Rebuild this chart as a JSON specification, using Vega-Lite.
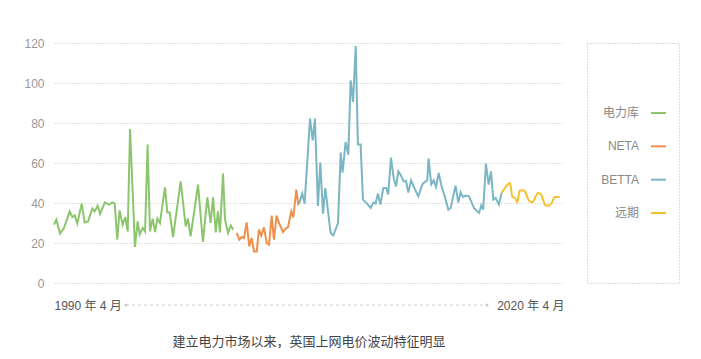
{
  "$schema": "https://vega.github.io/schema/vega-lite/v6.json",
  "padding": {"left": 23, "top": 37, "right": 5, "bottom": 5},
  "background": "white",
  "config": {
    "view": {"stroke": null},
    "font": "Liberation Sans, Noto Sans CJK SC",
    "text": {"font": "Liberation Sans, Noto Sans CJK SC"}
  },
  "spacing": 22,
  "datasets": {
    "prices": [
      {"series": "电力库", "t": 1990.25, "v": 29.2}, {"series": "电力库", "t": 1990.39, "v": 31.7}, {"series": "电力库", "t": 1990.61, "v": 24.7}, {"series": "电力库", "t": 1990.84, "v": 27.5}, {"series": "电力库", "t": 1991.18, "v": 35.8}, {"series": "电力库", "t": 1991.34, "v": 33}, {"series": "电力库", "t": 1991.48, "v": 33.8}, {"series": "电力库", "t": 1991.63, "v": 29.7}, {"series": "电力库", "t": 1991.89, "v": 39.7}, {"series": "电力库", "t": 1992.07, "v": 30.3}, {"series": "电力库", "t": 1992.27, "v": 30.8}, {"series": "电力库", "t": 1992.52, "v": 37.2}, {"series": "电力库", "t": 1992.66, "v": 35.8}, {"series": "电力库", "t": 1992.84, "v": 38.7}, {"series": "电力库", "t": 1992.98, "v": 34.5}, {"series": "电力库", "t": 1993.27, "v": 40.3}, {"series": "电力库", "t": 1993.51, "v": 39.2}, {"series": "电力库", "t": 1993.71, "v": 40.3}, {"series": "电力库", "t": 1993.85, "v": 39.7}, {"series": "电力库", "t": 1994.0, "v": 21.7}, {"series": "电力库", "t": 1994.14, "v": 36.3}, {"series": "电力库", "t": 1994.32, "v": 29.2}, {"series": "电力库", "t": 1994.48, "v": 33}, {"series": "电力库", "t": 1994.62, "v": 25.8}, {"series": "电力库", "t": 1994.76, "v": 77}, {"series": "电力库", "t": 1995.05, "v": 18}, {"series": "电力库", "t": 1995.21, "v": 30.8}, {"series": "电力库", "t": 1995.33, "v": 24.2}, {"series": "电力库", "t": 1995.51, "v": 27.5}, {"series": "电力库", "t": 1995.65, "v": 25.8}, {"series": "电力库", "t": 1995.8, "v": 69.2}, {"series": "电力库", "t": 1995.94, "v": 25.8}, {"series": "电力库", "t": 1996.1, "v": 32.2}, {"series": "电力库", "t": 1996.24, "v": 25.5}, {"series": "电力库", "t": 1996.38, "v": 32.2}, {"series": "电力库", "t": 1996.53, "v": 30}, {"series": "电力库", "t": 1996.83, "v": 47.8}, {"series": "电力库", "t": 1996.97, "v": 35.3}, {"series": "电力库", "t": 1997.11, "v": 35.3}, {"series": "电力库", "t": 1997.31, "v": 23}, {"series": "电力库", "t": 1997.76, "v": 50.8}, {"series": "电力库", "t": 1998.06, "v": 28.3}, {"series": "电力库", "t": 1998.19, "v": 32.2}, {"series": "电力库", "t": 1998.35, "v": 23.3}, {"series": "电力库", "t": 1998.79, "v": 49.2}, {"series": "电力库", "t": 1999.08, "v": 20.5}, {"series": "电力库", "t": 1999.34, "v": 42.8}, {"series": "电力库", "t": 1999.54, "v": 30}, {"series": "电力库", "t": 1999.68, "v": 42.8}, {"series": "电力库", "t": 1999.84, "v": 25.3}, {"series": "电力库", "t": 1999.97, "v": 35.8}, {"series": "电力库", "t": 2000.09, "v": 25.3}, {"series": "电力库", "t": 2000.27, "v": 54.7}, {"series": "电力库", "t": 2000.39, "v": 31.7}, {"series": "电力库", "t": 2000.57, "v": 25}, {"series": "电力库", "t": 2000.73, "v": 28.7}, {"series": "电力库", "t": 2000.88, "v": 26.7},
      {"series": "NETA", "t": 2001.08, "v": 25}, {"series": "NETA", "t": 2001.24, "v": 21.7}, {"series": "NETA", "t": 2001.38, "v": 23}, {"series": "NETA", "t": 2001.52, "v": 22.5}, {"series": "NETA", "t": 2001.67, "v": 30.3}, {"series": "NETA", "t": 2001.83, "v": 18.3}, {"series": "NETA", "t": 2001.97, "v": 22.5}, {"series": "NETA", "t": 2002.11, "v": 15.8}, {"series": "NETA", "t": 2002.27, "v": 15.8}, {"series": "NETA", "t": 2002.4, "v": 26.7}, {"series": "NETA", "t": 2002.54, "v": 23.7}, {"series": "NETA", "t": 2002.7, "v": 27.8}, {"series": "NETA", "t": 2002.86, "v": 20}, {"series": "NETA", "t": 2003.0, "v": 19.2}, {"series": "NETA", "t": 2003.16, "v": 33.7}, {"series": "NETA", "t": 2003.29, "v": 21.7}, {"series": "NETA", "t": 2003.45, "v": 33.7}, {"series": "NETA", "t": 2003.59, "v": 30}, {"series": "NETA", "t": 2003.83, "v": 25.5}, {"series": "NETA", "t": 2003.99, "v": 27.2}, {"series": "NETA", "t": 2004.12, "v": 27.8}, {"series": "NETA", "t": 2004.32, "v": 35.8}, {"series": "NETA", "t": 2004.44, "v": 32.8}, {"series": "NETA", "t": 2004.62, "v": 46.7}, {"series": "NETA", "t": 2004.74, "v": 38.8},
      {"series": "BETTA", "t": 2004.78, "v": 39.7}, {"series": "BETTA", "t": 2004.97, "v": 44.7}, {"series": "BETTA", "t": 2005.11, "v": 39.7}, {"series": "BETTA", "t": 2005.43, "v": 82.2}, {"series": "BETTA", "t": 2005.59, "v": 71.3}, {"series": "BETTA", "t": 2005.72, "v": 82.2}, {"series": "BETTA", "t": 2005.9, "v": 38.5}, {"series": "BETTA", "t": 2006.04, "v": 60.2}, {"series": "BETTA", "t": 2006.2, "v": 34.7}, {"series": "BETTA", "t": 2006.34, "v": 47.5}, {"series": "BETTA", "t": 2006.48, "v": 37.2}, {"series": "BETTA", "t": 2006.65, "v": 25}, {"series": "BETTA", "t": 2006.81, "v": 23.8}, {"series": "BETTA", "t": 2007.09, "v": 30}, {"series": "BETTA", "t": 2007.25, "v": 65.2}, {"series": "BETTA", "t": 2007.36, "v": 55.2}, {"series": "BETTA", "t": 2007.54, "v": 70.5}, {"series": "BETTA", "t": 2007.7, "v": 64.2}, {"series": "BETTA", "t": 2007.84, "v": 101.3}, {"series": "BETTA", "t": 2007.98, "v": 90.5}, {"series": "BETTA", "t": 2008.14, "v": 118.5}, {"series": "BETTA", "t": 2008.27, "v": 69.2}, {"series": "BETTA", "t": 2008.43, "v": 69.2}, {"series": "BETTA", "t": 2008.57, "v": 41.7}, {"series": "BETTA", "t": 2008.81, "v": 39.7}, {"series": "BETTA", "t": 2009.03, "v": 37.5}, {"series": "BETTA", "t": 2009.18, "v": 40.2}, {"series": "BETTA", "t": 2009.32, "v": 39.7}, {"series": "BETTA", "t": 2009.46, "v": 44.7}, {"series": "BETTA", "t": 2009.6, "v": 39.2}, {"series": "BETTA", "t": 2009.78, "v": 47.5}, {"series": "BETTA", "t": 2009.95, "v": 47.5}, {"series": "BETTA", "t": 2010.07, "v": 44.3}, {"series": "BETTA", "t": 2010.23, "v": 62.7}, {"series": "BETTA", "t": 2010.39, "v": 52.5}, {"series": "BETTA", "t": 2010.53, "v": 48.3}, {"series": "BETTA", "t": 2010.67, "v": 55.8}, {"series": "BETTA", "t": 2010.82, "v": 53.8}, {"series": "BETTA", "t": 2010.98, "v": 50.8}, {"series": "BETTA", "t": 2011.12, "v": 51}, {"series": "BETTA", "t": 2011.26, "v": 45.2}, {"series": "BETTA", "t": 2011.42, "v": 51.3}, {"series": "BETTA", "t": 2011.59, "v": 48}, {"series": "BETTA", "t": 2011.85, "v": 43.3}, {"series": "BETTA", "t": 2012.09, "v": 49.3}, {"series": "BETTA", "t": 2012.23, "v": 50.5}, {"series": "BETTA", "t": 2012.38, "v": 51.3}, {"series": "BETTA", "t": 2012.46, "v": 62.2}, {"series": "BETTA", "t": 2012.62, "v": 49.3}, {"series": "BETTA", "t": 2012.76, "v": 51.3}, {"series": "BETTA", "t": 2012.9, "v": 48}, {"series": "BETTA", "t": 2013.06, "v": 55}, {"series": "BETTA", "t": 2013.22, "v": 48.7}, {"series": "BETTA", "t": 2013.43, "v": 43}, {"series": "BETTA", "t": 2013.63, "v": 36.7}, {"series": "BETTA", "t": 2013.77, "v": 37.5}, {"series": "BETTA", "t": 2014.06, "v": 48.7}, {"series": "BETTA", "t": 2014.22, "v": 40.3}, {"series": "BETTA", "t": 2014.36, "v": 45.3}, {"series": "BETTA", "t": 2014.5, "v": 43}, {"series": "BETTA", "t": 2014.66, "v": 43.7}, {"series": "BETTA", "t": 2014.86, "v": 43.3}, {"series": "BETTA", "t": 2015.01, "v": 40.3}, {"series": "BETTA", "t": 2015.15, "v": 37.5}, {"series": "BETTA", "t": 2015.45, "v": 35}, {"series": "BETTA", "t": 2015.59, "v": 38.8}, {"series": "BETTA", "t": 2015.7, "v": 36.7}, {"series": "BETTA", "t": 2015.86, "v": 59.7}, {"series": "BETTA", "t": 2016.02, "v": 49.2}, {"series": "BETTA", "t": 2016.16, "v": 55.8}, {"series": "BETTA", "t": 2016.3, "v": 41.7}, {"series": "BETTA", "t": 2016.44, "v": 42.5}, {"series": "BETTA", "t": 2016.63, "v": 39.2}, {"series": "BETTA", "t": 2016.79, "v": 45},
      {"series": "远期", "t": 2016.79, "v": 45}, {"series": "远期", "t": 2016.99, "v": 47.5}, {"series": "远期", "t": 2017.29, "v": 50}, {"series": "远期", "t": 2017.43, "v": 43}, {"series": "远期", "t": 2017.59, "v": 42.5}, {"series": "远期", "t": 2017.72, "v": 40.3}, {"series": "远期", "t": 2017.86, "v": 46.3}, {"series": "远期", "t": 2018.12, "v": 46.3}, {"series": "远期", "t": 2018.28, "v": 43.7}, {"series": "远期", "t": 2018.41, "v": 41.2}, {"series": "远期", "t": 2018.61, "v": 40.3}, {"series": "远期", "t": 2018.77, "v": 42.5}, {"series": "远期", "t": 2018.93, "v": 45}, {"series": "远期", "t": 2019.12, "v": 44.5}, {"series": "远期", "t": 2019.26, "v": 41.3}, {"series": "远期", "t": 2019.4, "v": 38.8}, {"series": "远期", "t": 2019.6, "v": 38.8}, {"series": "远期", "t": 2019.76, "v": 40}, {"series": "远期", "t": 2019.95, "v": 43}, {"series": "远期", "t": 2020.23, "v": 43}
    ],
    "legendItems": [
      {"series": "电力库"}, {"series": "NETA"}, {"series": "BETTA"}, {"series": "远期"}
    ]
  },
  "hconcat": [
    {
      "width": 510,
      "height": 240,
      "title": {
        "text": "建立电力市场以来，英国上网电价波动特征明显",
        "orient": "bottom",
        "anchor": "middle",
        "offset": 25,
        "fontSize": 13,
        "fontWeight": "normal",
        "color": "#444444",
        "font": "Liberation Sans, Noto Sans CJK SC"
      },
      "layer": [
        {
          "data": {"name": "prices"},
          "transform": [{"filter": "datum.series != '远期'"}],
          "mark": {"type": "line", "strokeWidth": 2},
          "encoding": {
            "x": {
              "field": "t", "type": "quantitative",
              "scale": {"domain": [1990.25, 2020.49], "nice": false, "zero": false},
              "axis": {
                "values": [1990.25, 2020.49],
                "labelExpr": "datum.value < 2000 ? '1990 年 4 月' : '2020 年 4 月'",
                "labelAlign": {"condition": {"test": "datum.value < 2000", "value": "left"}, "value": "right"},
                "grid": false, "domain": false, "ticks": false, "tickSize": 0,
                "labelPadding": 17, "labelColor": "#555555", "labelFontSize": 12,
                "labelFont": "Liberation Sans, Noto Sans CJK SC",
                "labelOverlap": false, "labelFlush": false, "title": null
              }
            },
            "y": {
              "field": "v", "type": "quantitative",
              "scale": {"domain": [0, 120], "nice": false},
              "axis": {
                "values": [0, 20, 40, 60, 80, 100, 120],
                "tickCount": 7,
                "labelOverlap": false,
                "grid": true, "gridColor": "#c4c4c4", "gridDash": [1, 2], "gridWidth": 1,
                "domain": false, "ticks": false, "tickSize": 0,
                "labelPadding": 10, "labelColor": "#999999", "labelFontSize": 12,
                "labelFont": "Liberation Sans", "title": null
              }
            },
            "color": {
              "field": "series", "type": "nominal",
              "scale": {"domain": ["电力库", "NETA", "BETTA", "远期"], "range": ["#8cc56c", "#ee8f4c", "#7ab6c4", "#f3c22a"]},
              "legend": null
            }
          }
        },
        {
          "data": {"name": "prices"},
          "transform": [{"filter": "datum.series == '远期'"}],
          "mark": {"type": "line", "strokeWidth": 2, "interpolate": "monotone"},
          "encoding": {
            "x": {"field": "t", "type": "quantitative"},
            "y": {"field": "v", "type": "quantitative"},
            "color": {"field": "series", "type": "nominal", "legend": null}
          }
        },
        {
          "data": {"values": [{}]},
          "mark": {"type": "rule", "color": "#cccccc", "strokeDash": [3, 3], "strokeWidth": 1},
          "encoding": {
            "x": {"datum": 1994.52, "type": "quantitative"},
            "x2": {"datum": 2015.92},
            "y": {"datum": -11, "type": "quantitative"}
          }
        },
        {
          "data": {"values": [{}]},
          "mark": {"type": "point", "filled": true, "color": "#cccccc", "size": 10, "opacity": 1},
          "encoding": {
            "x": {"datum": 1994.52, "type": "quantitative"},
            "y": {"datum": -11, "type": "quantitative"}
          }
        },
        {
          "data": {"values": [{}]},
          "mark": {"type": "point", "filled": true, "color": "#cccccc", "size": 10, "opacity": 1},
          "encoding": {
            "x": {"datum": 2015.92, "type": "quantitative"},
            "y": {"datum": -11, "type": "quantitative"}
          }
        }
      ]
    },
    {
      "width": 92,
      "height": 240,
      "view": {"stroke": "#bbbbbb", "strokeDash": [1, 2], "strokeWidth": 1},
      "data": {"name": "legendItems"},
      "layer": [
        {
          "mark": {"type": "text", "align": "right", "baseline": "middle", "dx": 6, "fontSize": 12, "color": "#888888", "font": "Liberation Sans, Noto Sans CJK SC"},
          "encoding": {
            "y": {"field": "series", "type": "nominal", "scale": {"type": "point", "domain": ["电力库", "NETA", "BETTA", "远期"], "range": [70, 170], "padding": 0}, "axis": null},
            "text": {"field": "series"}
          }
        },
        {
          "mark": {"type": "tick", "orient": "horizontal", "size": 15, "thickness": 2, "xOffset": 25.5, "opacity": 1},
          "encoding": {
            "y": {"field": "series", "type": "nominal", "scale": {"type": "point", "domain": ["电力库", "NETA", "BETTA", "远期"], "range": [70, 170], "padding": 0}, "axis": null},
            "color": {"field": "series", "type": "nominal", "legend": null}
          }
        }
      ]
    }
  ]
}
